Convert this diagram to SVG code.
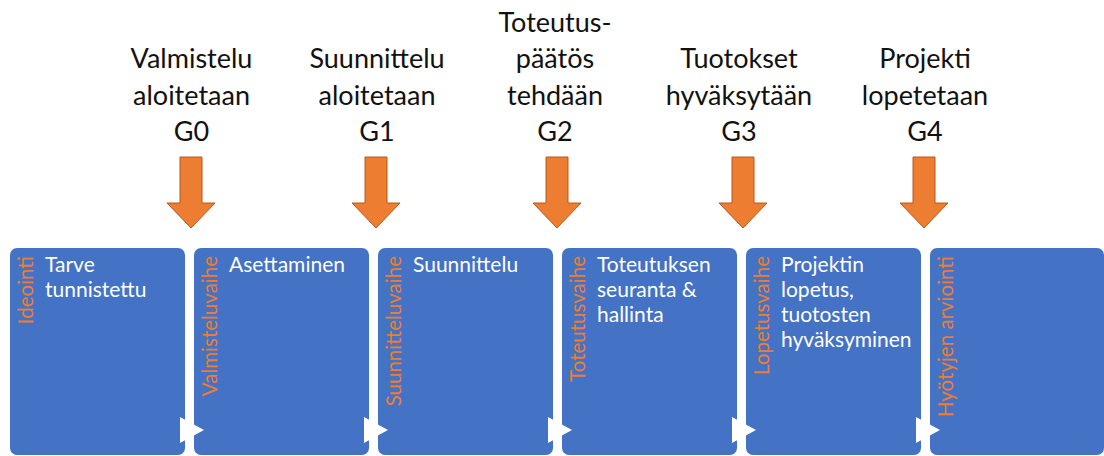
<svg xmlns="http://www.w3.org/2000/svg" width="1104" height="456" viewBox="0 0 1104 456">
  <style>
    .gate { font-family: Lato, "Liberation Sans", sans-serif; font-size: 27px; fill: #111; text-anchor: middle; }
    .box { fill: #4472C4; }
    .txt { font-family: Lato, "Liberation Sans", sans-serif; font-size: 21px; fill: #fff; }
    .phase { font-family: Lato, "Liberation Sans", sans-serif; font-size: 20.5px; fill: #ED7D31; text-anchor: end; }
    .down { fill: #ED7D31; stroke: #B6591F; stroke-width: 1; stroke-linejoin: miter; }
    .next { fill: #fff; }
  </style>
  <defs>
    <path id="gateArrow" class="down" d="M-11,157 H11 V203 H24 L0,228 L-24,203 H-11 Z"/>
    <path id="nextTri" class="next" d="M-14,417 L10,430 L-14,443 Z"/>
  </defs>

  <rect width="1104" height="456" fill="#fff"/>

  <!-- phase boxes -->
  <g id="phase-ideointi">
    <rect class="box" x="10" y="248" width="175" height="207" rx="7"/>
    <text class="txt" x="45" y="272">Tarve</text>
    <text class="txt" x="45" y="297">tunnistettu</text>
    <text class="phase" transform="translate(33,256) rotate(-90)">Ideointi</text>
  </g>
  <g id="phase-valmistelu">
    <rect class="box" x="194" y="248" width="175" height="207" rx="7"/>
    <text class="txt" x="229" y="272">Asettaminen</text>
    <text class="phase" transform="translate(217,256) rotate(-90)">Valmisteluvaihe</text>
  </g>
  <g id="phase-suunnittelu">
    <rect class="box" x="378" y="248" width="175" height="207" rx="7"/>
    <text class="txt" x="413" y="272">Suunnittelu</text>
    <text class="phase" transform="translate(401,256) rotate(-90)">Suunnitteluvaihe</text>
  </g>
  <g id="phase-toteutus">
    <rect class="box" x="562" y="248" width="175" height="207" rx="7"/>
    <text class="txt" x="597" y="272">Toteutuksen</text>
    <text class="txt" x="597" y="297">seuranta &amp;</text>
    <text class="txt" x="597" y="322">hallinta</text>
    <text class="phase" transform="translate(585,256) rotate(-90)">Toteutusvaihe</text>
  </g>
  <g id="phase-lopetus">
    <rect class="box" x="746" y="248" width="175" height="207" rx="7"/>
    <text class="txt" x="781" y="272">Projektin</text>
    <text class="txt" x="781" y="297">lopetus,</text>
    <text class="txt" x="781" y="322">tuotosten</text>
    <text class="txt" x="781" y="347">hyväksyminen</text>
    <text class="phase" transform="translate(769,256) rotate(-90)">Lopetusvaihe</text>
  </g>
  <g id="phase-hyodyt">
    <rect class="box" x="930" y="248" width="174" height="207" rx="7"/>
    <text class="phase" transform="translate(953,256) rotate(-90)">Hyötyjen arviointi</text>
  </g>

  <!-- connectors: flow triangles between phases and gate arrows -->
  <g id="connectors">
    <use href="#nextTri" x="194"/>
    <use href="#nextTri" x="378"/>
    <use href="#nextTri" x="562"/>
    <use href="#nextTri" x="746"/>
    <use href="#nextTri" x="930"/>
    <use href="#gateArrow" x="191"/>
    <use href="#gateArrow" x="376"/>
    <use href="#gateArrow" x="557"/>
    <use href="#gateArrow" x="743"/>
    <use href="#gateArrow" x="924"/>
  </g>

  <!-- gate labels -->
  <g id="gate-g0">
    <text class="gate" x="191.5" y="68">Valmistelu</text>
    <text class="gate" x="191.5" y="104.5">aloitetaan</text>
    <text class="gate" x="191.5" y="141">G0</text>
  </g>
  <g id="gate-g1">
    <text class="gate" x="377" y="68">Suunnittelu</text>
    <text class="gate" x="377" y="104.5">aloitetaan</text>
    <text class="gate" x="377" y="141">G1</text>
  </g>
  <g id="gate-g2">
    <text class="gate" x="555" y="31.5">Toteutus-</text>
    <text class="gate" x="555" y="68">päätös</text>
    <text class="gate" x="555" y="104.5">tehdään</text>
    <text class="gate" x="555" y="141">G2</text>
  </g>
  <g id="gate-g3">
    <text class="gate" x="739" y="68">Tuotokset</text>
    <text class="gate" x="739" y="104.5">hyväksytään</text>
    <text class="gate" x="739" y="141">G3</text>
  </g>
  <g id="gate-g4">
    <text class="gate" x="925" y="68">Projekti</text>
    <text class="gate" x="925" y="104.5">lopetetaan</text>
    <text class="gate" x="925" y="141">G4</text>
  </g>
</svg>
